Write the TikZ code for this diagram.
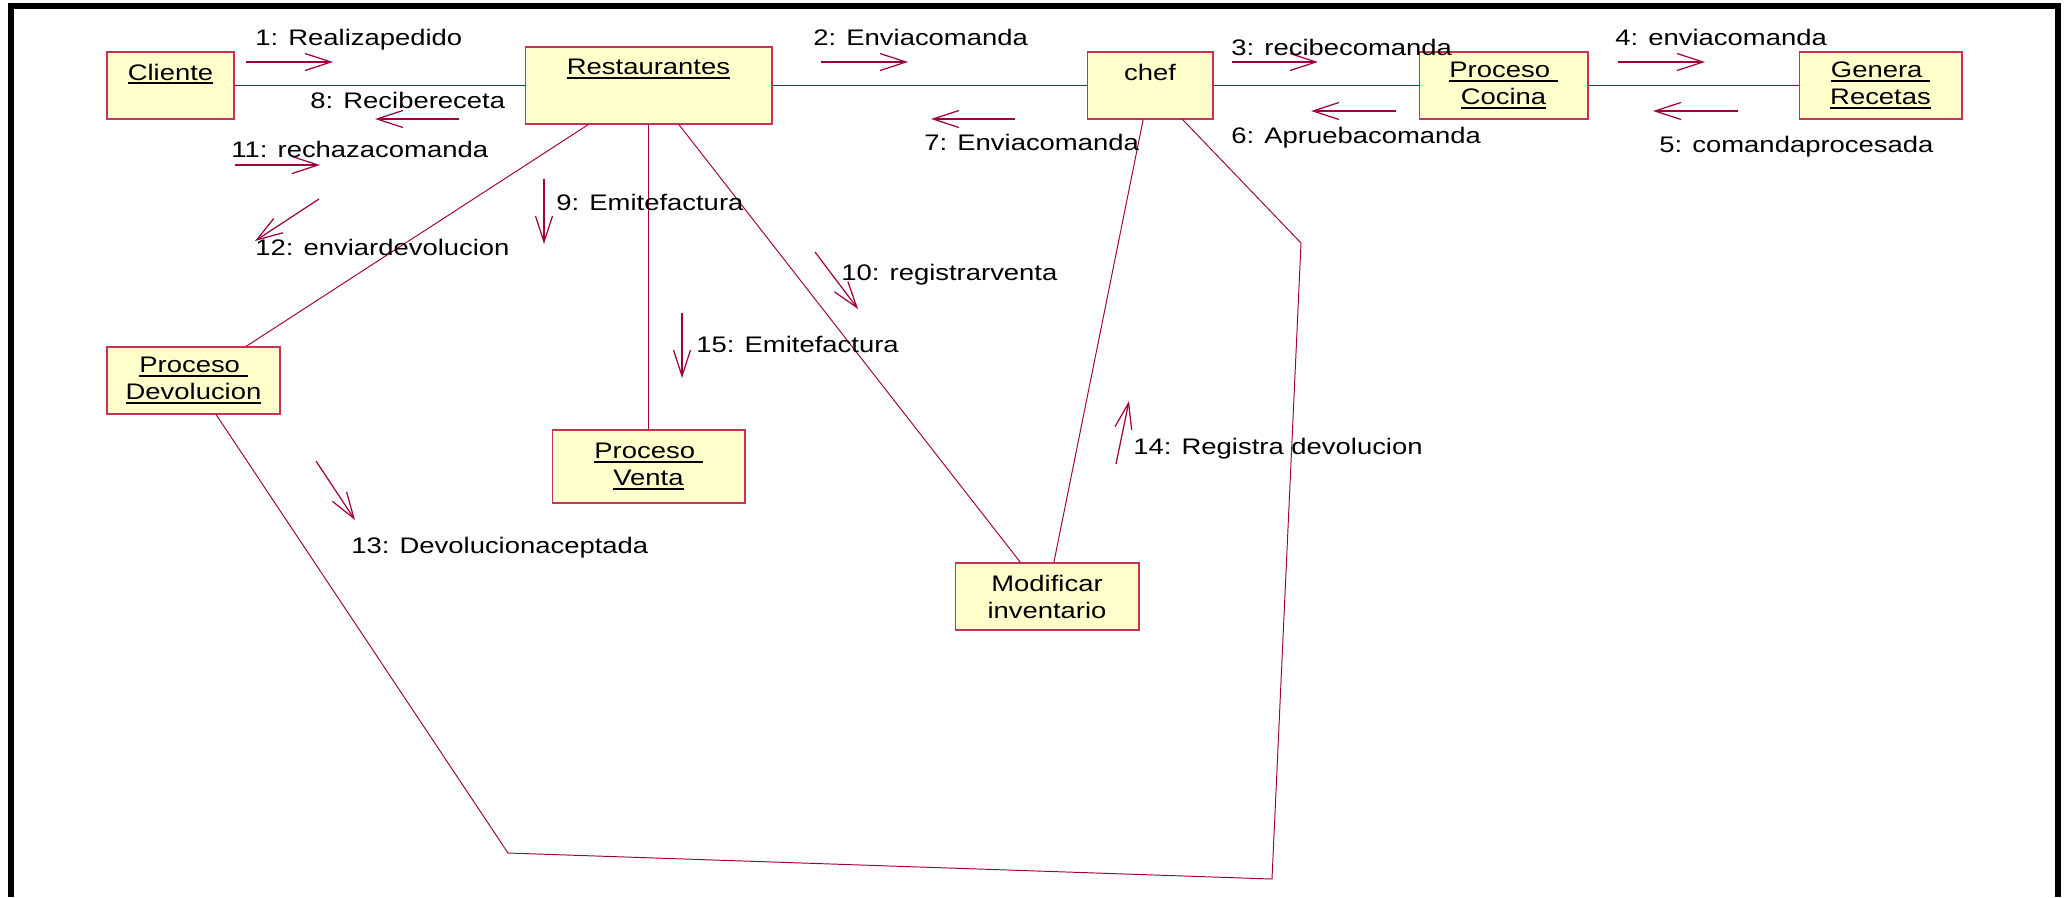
\documentclass[tikz,border=0pt]{standalone}
\usepackage{fontspec}
\setmainfont{Liberation Sans}[FakeStretch=1.22]
\usetikzlibrary{arrows.meta}

\definecolor{linkred}{RGB}{160,0,60}
\definecolor{boxred}{RGB}{200,50,90}
\definecolor{objfill}{RGB}{255,255,204}

\newcommand{\uname}[1]{\setbox0\hbox{#1}\rlap{\rule[-2.3pt]{\wd0}{1.1pt}}\box0}

\tikzset{
  obj/.style={draw=boxred, fill=objfill, line width=0.6pt, inner sep=0pt,
    align=center, minimum height=1.34cm, font=\fontsize{12.8}{15.4}\selectfont},
  link/.style={draw=linkred, line width=0.55pt},
  msg/.style={draw=linkred, line width=0.7pt,
    -{Straight Barb[length=5.2mm,width=3.4mm]}},
  lbl/.style={anchor=base west, inner sep=0pt, font=\fontsize{12.8}{15.4}\selectfont},
  frame/.style={line width=0.12cm, line join=miter}
}

\begin{document}
\begin{tikzpicture}[x=0.02cm, y=-0.02cm]
  \useasboundingbox (0,0) rectangle (2064,897);
  \draw[frame] (11,897) -- (11,6) -- (2058,6) -- (2058,897);

  \node[obj, minimum width=2.54cm] (cliente) at (170.5,85.5) {\uname{Cliente}\\\mbox{}};
  \node[obj, minimum width=4.94cm, minimum height=1.54cm] (rest) at (648.5,85.5) {\uname{Restaurantes}\\[0.2cm]\mbox{}};
  \node[obj, minimum width=2.52cm] (chef) at (1150,85.5) {chef\\\mbox{}};
  \node[obj, minimum width=3.38cm] (cocina) at (1503.5,85.5) {\uname{Proceso\ }\\\uname{Cocina}};
  \node[obj, minimum width=3.26cm] (recetas) at (1880.5,85.5) {\uname{Genera\ }\\\uname{Recetas}};
  \node[obj, minimum width=3.46cm] (devol) at (193.5,380.5) {\uname{Proceso\ }\\\uname{Devolucion}};
  \node[obj, minimum width=3.86cm, minimum height=1.46cm] (venta) at (648.5,466.5) {\uname{Proceso\ }\\\uname{Venta}};
  \node[obj, minimum width=3.68cm] (inv) at (1047,596.5) {Modificar\\inventario};

  \coordinate (c1) at (1301,243);
  \coordinate (c2) at (1272,879);
  \coordinate (c3) at (508,853);

  \begin{scope}[link]
    \draw (cliente) -- (rest);
    \draw (rest) -- (chef);
    \draw (chef) -- (cocina);
    \draw (cocina) -- (recetas);
    \draw (rest) -- (devol);
    \draw (rest) -- (venta);
    \draw (rest) -- (inv);
    \draw (chef) -- (inv);
    \draw (chef) -- (c1) -- (c2) -- (c3) -- (devol);
  \end{scope}

  \coordinate (m1a) at (246,62);   \coordinate (m1b) at (333,62);
  \coordinate (m2a) at (821,62);   \coordinate (m2b) at (908,62);
  \coordinate (m3a) at (1232,62);  \coordinate (m3b) at (1318,62);
  \coordinate (m4a) at (1618,62);  \coordinate (m4b) at (1705,62);
  \coordinate (m5a) at (1738,111); \coordinate (m5b) at (1653,111);
  \coordinate (m6a) at (1396,111); \coordinate (m6b) at (1311,111);
  \coordinate (m7a) at (1015,119); \coordinate (m7b) at (931,119);
  \coordinate (m8a) at (459,119);  \coordinate (m8b) at (375,119);
  \coordinate (m9a) at (544,179);  \coordinate (m9b) at (544,244);
  \coordinate (m10a) at (815,252); \coordinate (m10b) at (858,309);
  \coordinate (m11a) at (235,165); \coordinate (m11b) at (320,165);
  \coordinate (m12a) at (319,199); \coordinate (m12b) at (255,241);
  \coordinate (m13a) at (316,461); \coordinate (m13b) at (355,520);
  \coordinate (m14a) at (1116,464); \coordinate (m14b) at (1129,401);
  \coordinate (m15a) at (682,313); \coordinate (m15b) at (682,378);

  \begin{scope}[msg]
    \draw (m1a) -- (m1b);
    \draw (m2a) -- (m2b);
    \draw (m3a) -- (m3b);
    \draw (m4a) -- (m4b);
    \draw (m5a) -- (m5b);
    \draw (m6a) -- (m6b);
    \draw (m7a) -- (m7b);
    \draw (m8a) -- (m8b);
    \draw (m9a) -- (m9b);
    \draw (m10a) -- (m10b);
    \draw (m11a) -- (m11b);
    \draw (m12a) -- (m12b);
    \draw (m13a) -- (m13b);
    \draw (m14a) -- (m14b);
    \draw (m15a) -- (m15b);
  \end{scope}

  \node[lbl] (l1) at (255,45) {1: Realizapedido};
  \node[lbl] (l2) at (813,45) {2: Enviacomanda};
  \node[lbl] (l3) at (1231,55) {3: recibecomanda};
  \node[lbl] (l4) at (1615,45) {4: enviacomanda};
  \node[lbl] (l5) at (1659,152) {5: comandaprocesada};
  \node[lbl] (l6) at (1231,143) {6: Apruebacomanda};
  \node[lbl] (l7) at (924,150) {7: Enviacomanda};
  \node[lbl] (l8) at (310,108) {8: Recibereceta};
  \node[lbl] (l9) at (556,210) {9: Emitefactura};
  \node[lbl] (l10) at (841,280) {10: registrarventa};
  \node[lbl] (l11) at (231,157) {11: rechazacomanda};
  \node[lbl] (l12) at (255,255) {12: enviardevolucion};
  \node[lbl] (l13) at (351,553) {13: Devolucionaceptada};
  \node[lbl] (l14) at (1133,454) {14: Registra devolucion};
  \node[lbl] (l15) at (696,352) {15: Emitefactura};
\end{tikzpicture}
\end{document}
